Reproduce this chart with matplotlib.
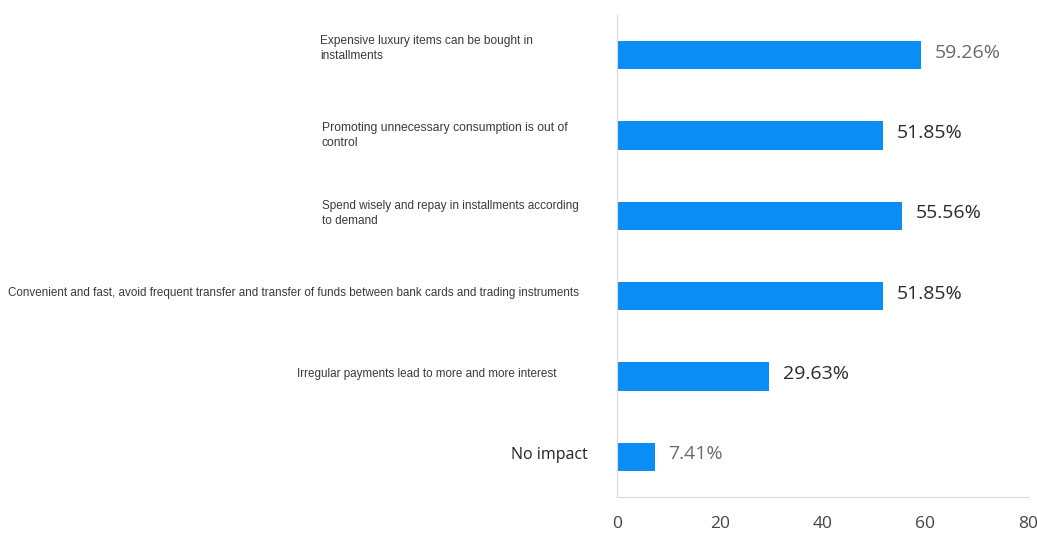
import matplotlib
matplotlib.use("Agg")
import matplotlib.pyplot as plt

categories = [
    "Expensive luxury items can be bought in\ninstallments",
    "Promoting unnecessary consumption is out of\ncontrol",
    "Spend wisely and repay in installments according\nto demand",
    "Convenient and fast, avoid frequent transfer and transfer of funds between bank cards and trading instruments",
    "Irregular payments lead to more and more interest",
    "No impact",
]
values = [59.26, 51.85, 55.56, 51.85, 29.63, 7.41]
value_labels = ["59.26%", "51.85%", "55.56%", "51.85%", "29.63%", "7.41%"]
xticks = [0, 20, 40, 60, 80]

W, H = 1037, 535
X0, X1 = 617, 1028
fig = plt.figure(figsize=(W / 100, H / 100), dpi=100)
ax = fig.add_axes([X0 / W, 1 - 497 / H, (X1 - X0) / W, (497 - 15) / H])

ypos = list(range(len(values)))
ax.barh(ypos, values, height=0.35, color="#0A8EF5", zorder=2)
ax.set_xlim(0, 80)
ax.set_ylim(len(values) - 0.5, -0.5)

lab_colors = ["#6a6a6a", "#2a2a2a", "#2a2a2a", "#2a2a2a", "#2a2a2a", "#6a6a6a"]
for y, v, t, c in zip(ypos, values, value_labels, lab_colors):
    ax.text(v + 2.6, y - 0.03, t, va="center", ha="left", fontsize=14,
            family=["Open Sans", "DejaVu Sans"], color=c)

# category label boxes: left px, right px, vertical offset (data units)
left_px = [320, 322, 322, 8, 297]
right_px = [532, 568, 577, 575, 553]
yoff = [-0.087, 0.0, -0.025, -0.04, -0.025]
renderer = fig.canvas.get_renderer()
for y, lab, lp, rp, off in zip(ypos, categories[:5], left_px, right_px, yoff):
    xa = (lp - X0) / (X1 - X0)
    t = ax.text(xa, y + off, lab, transform=ax.get_yaxis_transform(), ha="left",
                va="center", multialignment="left", fontsize=8.5,
                family=["Liberation Sans", "DejaVu Sans"], color="#3a3a3a",
                linespacing=1.35, clip_on=False)
    w = t.get_window_extent(renderer).width
    t.set_fontsize(8.5 * (rp - lp) / w)

ax.text((588 - X0) / (X1 - X0), 5 - 0.025, categories[5],
        transform=ax.get_yaxis_transform(), ha="right", va="center",
        fontsize=11.5, family=["Open Sans", "DejaVu Sans"], color="#222222")

ax.set_yticks([])
ax.set_xticks(xticks)
ax.set_xticklabels([str(t) for t in xticks], fontsize=12.5,
                   family=["Open Sans", "DejaVu Sans"], color="#444444")
ax.tick_params(axis="x", length=0, pad=14)
for s in ["top", "right"]:
    ax.spines[s].set_visible(False)
ax.spines["left"].set_color("#d9d9d9")
ax.spines["bottom"].set_color("#d9d9d9")

fig.savefig("out.png", dpi=100, facecolor="white")
